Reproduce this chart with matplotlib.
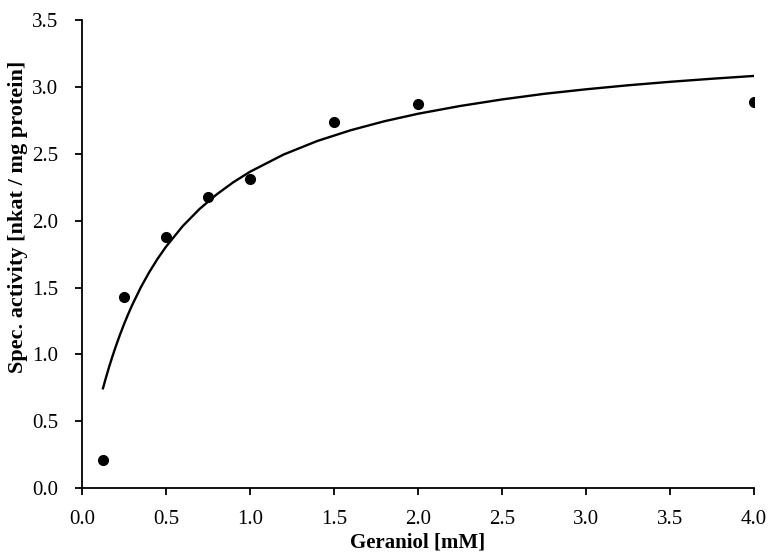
import matplotlib
matplotlib.use('Agg')
import matplotlib.pyplot as plt

# measured points
geraniol = [0.125, 0.25, 0.5, 0.75, 1.0, 1.5, 2.0, 4.0]
activity = [0.21, 1.43, 1.88, 2.18, 2.31, 2.74, 2.87, 2.89]

# fitted curve
fit_x = [0.125, 0.14, 0.16, 0.18, 0.2, 0.225, 0.25, 0.275, 0.3, 0.35, 0.4,
         0.45, 0.5, 0.6, 0.7, 0.8, 0.9, 1.0, 1.2, 1.4, 1.6, 1.8, 2.0, 2.25,
         2.5, 2.75, 3.0, 3.25, 3.5, 3.75, 4.0]
fit_y = [0.746, 0.814, 0.900, 0.980, 1.055, 1.143, 1.225, 1.301, 1.372,
         1.501, 1.614, 1.715, 1.805, 1.960, 2.088, 2.195, 2.287, 2.366,
         2.495, 2.596, 2.677, 2.744, 2.800, 2.858, 2.907, 2.949, 2.983,
         3.013, 3.039, 3.062, 3.083]

plt.rcParams['font.family'] = ['Liberation Serif', 'DejaVu Serif']

fig = plt.figure(figsize=(7.69, 5.53), dpi=100)
ax = fig.add_axes([0.1066, 0.1175, 0.874, 0.846])

ax.plot(fit_x, fit_y, color='black', lw=1.7)
ax.plot(geraniol, activity, 'o', color='black', ms=7)

ax.set_xlim(0, 4.0)
ax.set_ylim(0, 3.5)
ax.set_xticks([i * 0.5 for i in range(9)])
ax.set_yticks([i * 0.5 for i in range(8)])
ax.xaxis.set_major_formatter(matplotlib.ticker.FormatStrFormatter('%.1f'))
ax.yaxis.set_major_formatter(matplotlib.ticker.FormatStrFormatter('%.1f'))

for s in ['top', 'right']:
    ax.spines[s].set_visible(False)
for s in ['left', 'bottom']:
    ax.spines[s].set_linewidth(1.3)
ax.tick_params(direction='out', length=5, width=1.3, labelsize=15)
ax.tick_params(axis='x', pad=11)
ax.tick_params(axis='y', pad=12)

ax.set_xlabel('Geraniol [mM]', fontsize=15, fontweight='bold', labelpad=2)
ax.set_ylabel('Spec. activity [nkat / mg protein]', fontsize=16,
              fontweight='bold')
ax.yaxis.set_label_coords(-0.08, 0.579)

fig.savefig('out.png', dpi=100)
